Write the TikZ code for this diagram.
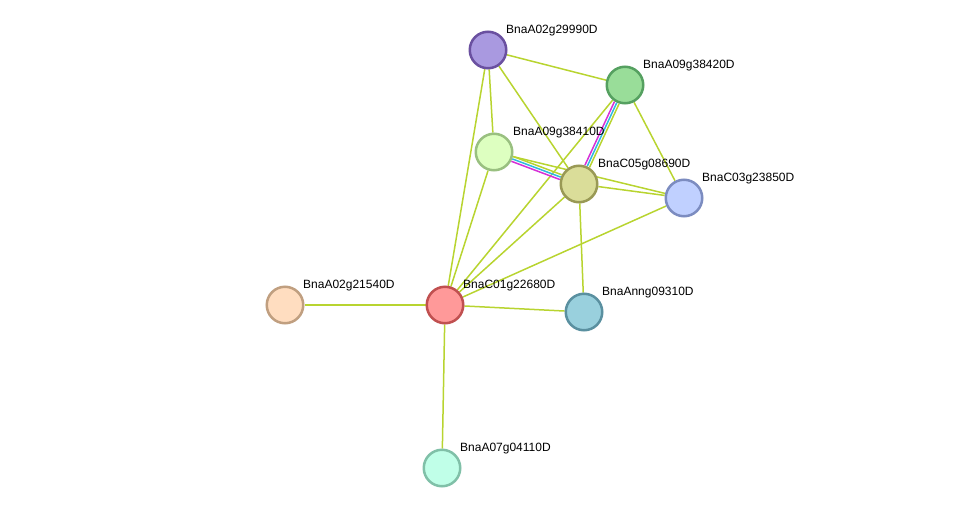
\documentclass[tikz,border=0pt]{standalone}
\usepackage{fontspec}
\setmainfont{Liberation Sans}
\usetikzlibrary{backgrounds}
\definecolor{tm}{HTML}{B8D430}
\definecolor{ex}{HTML}{D630D6}
\definecolor{db}{HTML}{30B8E0}
\definecolor{f1}{HTML}{A999E0}\definecolor{d1}{HTML}{6A50A0}
\definecolor{f2}{HTML}{99DD99}\definecolor{d2}{HTML}{55A060}
\definecolor{f3}{HTML}{DDFFC0}\definecolor{d3}{HTML}{99C080}
\definecolor{f4}{HTML}{DADD99}\definecolor{d4}{HTML}{999955}
\definecolor{f5}{HTML}{C0D0FF}\definecolor{d5}{HTML}{7C8CC0}
\definecolor{f6}{HTML}{FF9999}\definecolor{d6}{HTML}{C05050}
\definecolor{f7}{HTML}{FFDDC0}\definecolor{d7}{HTML}{C09F80}
\definecolor{f8}{HTML}{99D0DD}\definecolor{d8}{HTML}{5A90A0}
\definecolor{f9}{HTML}{C0FFE8}\definecolor{d9}{HTML}{80C0A8}
\tikzset{
  prot/.style={circle, minimum size=36.5pt, inner sep=0pt, line width=2.5pt},
  lbl/.style={anchor=base west, font=\fontsize{12pt}{14pt}\selectfont, inner sep=0pt},
  edge/.style={draw=tm, line width=1.5pt},
  exedge/.style={draw=ex, line width=1.5pt},
  dbedge/.style={draw=db, line width=1.5pt}
}
\begin{document}
\begin{tikzpicture}[x=1pt,y=-1pt]
\useasboundingbox (0,0) rectangle (976,514);
\node[prot, fill=f1, draw=d1] (a29990) at (488,50) {};
\node[prot, fill=f2, draw=d2] (a38420) at (625,85) {};
\node[prot, fill=f3, draw=d3] (a38410) at (494,152) {};
\node[prot, fill=f4, draw=d4] (c05) at (579,184) {};
\node[prot, fill=f5, draw=d5] (c03) at (684,198) {};
\node[prot, fill=f6, draw=d6] (c01) at (445,305) {};
\node[prot, fill=f7, draw=d7] (a21540) at (285,305) {};
\node[prot, fill=f8, draw=d8] (anng) at (584,312) {};
\node[prot, fill=f9, draw=d9] (a04110) at (442,468) {};

\node[lbl] (l29990) at (506,33) {BnaA02g29990D};
\node[lbl] (l38420) at (643,68) {BnaA09g38420D};
\node[lbl] (l38410) at (513,135) {BnaA09g38410D};
\node[lbl] (lc05) at (598,167) {BnaC05g08690D};
\node[lbl] (lc03) at (702,181) {BnaC03g23850D};
\node[lbl] (lc01) at (463,288) {BnaC01g22680D};
\node[lbl] (l21540) at (303,288) {BnaA02g21540D};
\node[lbl] (lanng) at (602,295) {BnaAnng09310D};
\node[lbl] (l04110) at (460,451) {BnaA07g04110D};

\begin{scope}[on background layer]
\draw[edge] (a29990) -- (a38420);
\draw[edge] (a29990) -- (a38410);
\draw[edge] (a29990) -- (c05);
\draw[edge] (a29990) -- (c01);
\draw[edge] (a38420) -- (c03);
\draw[edge] (a38420) -- (c01);
\draw[edge] (a38410) -- (c03);
\draw[edge] (a38410) -- (c01);
\draw[edge] (c05) -- (c03);
\draw[edge] (c05) -- (c01);
\draw[edge] (c05) -- (anng);
\draw[edge] (c03) -- (c01);
\draw[edge] (c01) -- (a21540);
\draw[edge] (c01) -- (anng);
\draw[edge] (c01) -- (a04110);
% multi-evidence edges
\draw[exedge, transform canvas={shift={(-2.3pt,1.1pt)}}] (a38420) -- (c05);
\draw[dbedge] (a38420) -- (c05);
\draw[edge, transform canvas={shift={(2.3pt,-1.1pt)}}] (a38420) -- (c05);
\draw[exedge, transform canvas={shift={(-0.9pt,-2.4pt)}}] (a38410) -- (c05);
\draw[dbedge] (a38410) -- (c05);
\draw[edge, transform canvas={shift={(0.9pt,2.4pt)}}] (a38410) -- (c05);
\end{scope}
\end{tikzpicture}
\end{document}
